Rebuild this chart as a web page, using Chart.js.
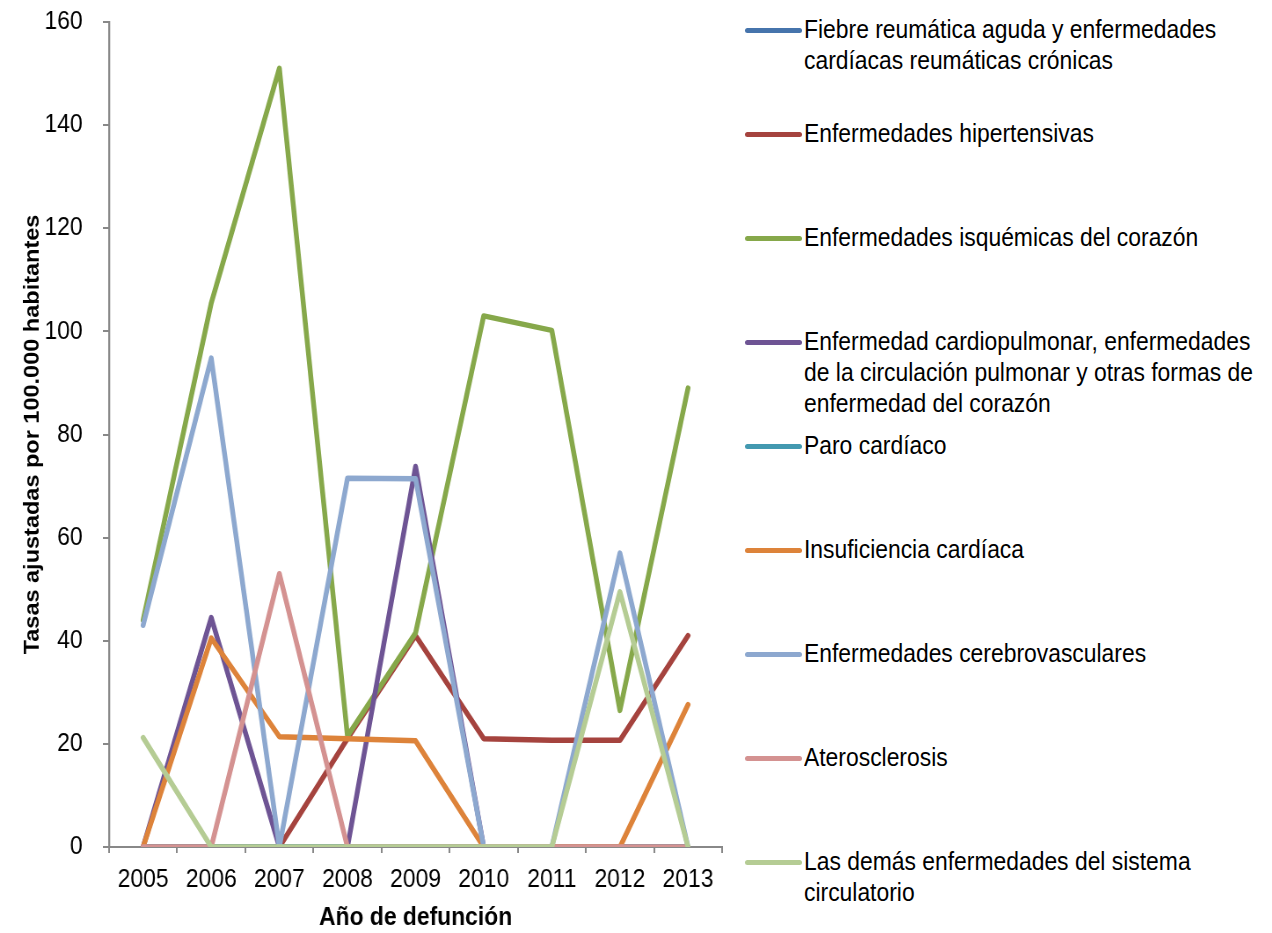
<!DOCTYPE html>
<html>
<head>
<meta charset="utf-8">
<script src="https://cdn.jsdelivr.net/npm/chart.js@4/dist/chart.umd.min.js"></script>
<style>
  html, body { margin: 0; padding: 0; background: #fff; }
  #wrap { position: relative; width: 1272px; height: 933px; overflow: hidden; }
  #chart { position: absolute; left: 0; top: 0; }
  #legend { position: absolute; left: 745px; top: 14px; font-family: 'Liberation Sans', Arial, sans-serif; font-size: 26px; color: #000; }
  .item { display: flex; align-items: flex-start; height: 104px; }
  .swatch { width: 57px; height: 4.5px; border-radius: 2.5px; margin-top: 14px; flex: none; }
  .txt { margin-left: 2px; line-height: 31px; white-space: nowrap; transform: scaleX(0.88); transform-origin: left top; }
</style>
</head>
<body>
<div id="wrap">
  <!-- canvas is drawn wider and squeezed to fake the narrow font of the original -->
  <canvas id="chart" width="830" height="933" style="width:730px;height:933px"></canvas>
  <div id="legend"></div>
</div>
<script>
const years = ["2005", "2006", "2007", "2008", "2009", "2010", "2011", "2012", "2013"];

const seriesNames = [
    ["Fiebre reumática aguda y enfermedades", "cardíacas reumáticas crónicas"],
    ["Enfermedades hipertensivas"],
    ["Enfermedades isquémicas del corazón"],
    ["Enfermedad cardiopulmonar, enfermedades", "de la circulación pulmonar y otras formas de", "enfermedad del corazón"],
    ["Paro cardíaco"],
    ["Insuficiencia cardíaca"],
    ["Enfermedades cerebrovasculares"],
    ["Aterosclerosis"],
    ["Las demás enfermedades del sistema", "circulatorio"]
];

const fiebre = [0, 0, 0, 0, 0, 0, 0, 0, 0];
const hipertensivas = [0, 0, 0, 21, 41, 21, 20.7, 20.7, 41];
const isquemicas = [44, 105.5, 151, 21.5, 41.5, 103, 100.2, 26.5, 89];
const cardiopulmonar = [0, 44.5, 0, 0, 73.8, 0, 0, 0, 0];
const paro = [0, 0, 0, 0, 0, 0, 0, 0, 0];
const insuficiencia = [0, 40.5, 21.4, 21, 20.6, 0, 0, 0, 27.6];
const cerebrovasculares = [43, 94.8, 0, 71.5, 71.4, 0, 0, 57, 0];
const aterosclerosis = [0, 0, 53, 0, 0, 0, 0, 0, 0];
const demas = [21.2, 0, 0, 0, 0, 0, 0, 49.5, 0];

const colors = ["#4674AC", "#A5433E", "#86A84A", "#6E5494", "#4399B0", "#DD833A", "#8DA8CF", "#D49291", "#B5CC94"];

const yTicks = [0, 20, 40, 60, 80, 100, 120, 140, 160];

const allSeries = [fiebre, hipertensivas, isquemicas, cardiopulmonar, paro, insuficiencia, cerebrovasculares, aterosclerosis, demas];

const FONT = "'Liberation Sans', Arial, sans-serif";
const axisGray = "#888888";

const datasets = allSeries.map((values, i) => ({
    label: seriesNames[i].join(" "),
    data: values,
    borderColor: colors[i],
    backgroundColor: colors[i],
    borderWidth: 5.5,
    borderCapStyle: "round",
    borderJoinStyle: "round",
    pointRadius: 0,
    tension: 0,
    fill: false,
    // last series on top, like the original
    order: allSeries.length - i
}));

const chart = new Chart(document.getElementById("chart"), {
    type: "line",
    data: { labels: years, datasets: datasets },
    options: {
        responsive: false,
        animation: false,
        devicePixelRatio: 1,
        layout: { padding: { top: 22, right: 9, left: 0, bottom: 0 } },
        plugins: {
            legend: { display: false },
            tooltip: { enabled: false }
        },
        scales: {
            x: {
                offset: true,
                grid: {
                    offset: true,
                    drawOnChartArea: false,
                    drawTicks: true,
                    tickLength: 6,
                    color: axisGray,
                    lineWidth: 2
                },
                border: { color: axisGray, width: 2 },
                ticks: {
                    color: "#000",
                    font: { family: FONT, size: 26 },
                    padding: 11,
                    maxRotation: 0
                },
                title: {
                    display: true,
                    text: "Año de defunción",
                    color: "#000",
                    font: { family: FONT, size: 26, weight: "bold" },
                    padding: { top: 0, bottom: 0 }
                },
                afterFit: scale => { scale.height = 86; }
            },
            y: {
                min: 0,
                max: 160,
                afterBuildTicks: scale => { scale.ticks = yTicks.map(v => ({ value: v })); },
                grid: {
                    drawOnChartArea: false,
                    drawTicks: true,
                    tickLength: 7,
                    color: axisGray,
                    lineWidth: 2
                },
                border: { color: axisGray, width: 2.3 },
                ticks: {
                    color: "#000",
                    font: { family: FONT, size: 26 },
                    padding: 23
                },
                title: {
                    display: true,
                    text: "Tasas ajustadas por 100.000 habitantes",
                    color: "#000",
                    font: { family: FONT, size: 23.5, weight: "bold" },
                    padding: { top: 23, bottom: 0 }
                },
                afterFit: scale => {
                    scale.width = 124;
                    // the label padding is horizontal here, keep it out of the top margin
                    scale.paddingTop = 0;
                }
            }
        }
    }
});

// html legend built from the datasets
const legendDiv = document.getElementById("legend");
chart.data.datasets.forEach((ds, i) => {
    const item = document.createElement("div");
    item.className = "item";
    const sw = document.createElement("div");
    sw.className = "swatch";
    sw.style.background = ds.borderColor;
    const txt = document.createElement("div");
    txt.className = "txt";
    txt.innerHTML = seriesNames[i].join("<br>");
    item.appendChild(sw);
    item.appendChild(txt);
    legendDiv.appendChild(item);
});
</script>
</body>
</html>
